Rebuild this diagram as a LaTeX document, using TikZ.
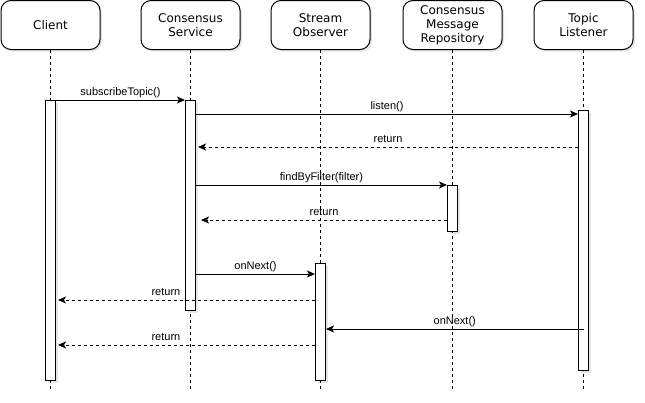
\documentclass[tikz,border=0pt]{standalone}
\usepackage{fontspec}
\setmainfont{DejaVu Sans}
\newfontfamily\msgfont{Liberation Sans}
\usetikzlibrary{arrows.meta, positioning, shadows}

\begin{document}
\begin{tikzpicture}[
    x=1pt, y=-1pt,
    line width=1pt,
    headnode/.style={draw=black, fill=white, rounded corners=10pt, minimum width=99pt, minimum height=49pt,
        align=center, font=\fontsize{12}{14}\selectfont,
        drop shadow={opacity=0.2, shadow xshift=2pt, shadow yshift=-2pt}},
    barnode/.style={draw=black, fill=white, minimum width=10pt, inner sep=0pt, anchor=north,
        drop shadow={opacity=0.2, shadow xshift=2pt, shadow yshift=-2pt}},
    lifeline/.style={dash pattern=on 3pt off 3pt, line width=0.8pt},
    msg/.style={-{Stealth[length=8pt, width=7pt, inset=2pt]}},
    retmsg/.style={msg, dash pattern=on 3pt off 3pt},
    lbl/.style={above, inner sep=2pt, text depth=2.5pt, font=\msgfont\fontsize{11}{13}\selectfont},
    ]

    \useasboundingbox (0,0) rectangle (645,402);

    % participants
    \node[headnode]    (client) at (50.5,25)          {Client};
    \node[headnode]    (cs)     [right=40pt of client] {Consensus\\Service};
    \node[headnode]    (so)     [right=30pt of cs]     {Stream\\Observer};
    \node[headnode]    (cmr)    [right=32pt of so]     {Consensus\\Message\\Repository};
    \node[headnode]    (tl)     [right=31pt of cmr]    {Topic\\Listener};

    % lifelines
    \foreach \p in {client, cs, so, cmr, tl}
        \draw[lifeline] (\p.south) -- (\p.south |- 0,391);

    % activations
    \node[barnode, minimum height=280pt] (clientbar) at (client |- 0,100) {};
    \node[barnode, minimum height=210pt] (csbar)     at (cs |- 0,100)     {};
    \node[barnode, minimum height=117pt] (sobar)     at (so |- 0,263)     {};
    \node[barnode, minimum height=46pt]  (cmrbar)    at (cmr |- 0,185)    {};
    \node[barnode, minimum height=260pt] (tlbar)     at (tl |- 0,110)     {};

    % messages
    \draw[msg] (clientbar.east |- 0,100) -- node[lbl] {subscribeTopic()} (csbar.west |- 0,100);
    \draw[msg] (csbar.east |- 0,114) -- node[lbl] {listen()} (tlbar.west |- 0,114);
    \draw[retmsg] (tlbar.west |- 0,147) -- node[lbl] {return} ([xshift=2pt]csbar.east |- 0,147);
    \draw[msg] (csbar.east |- 0,185) -- node[lbl] {findByFilter(filter)} (cmrbar.west |- 0,185);
    \draw[retmsg] (cmrbar.west |- 0,220) -- node[lbl] {return} ([xshift=5pt]csbar.east |- 0,220);
    \draw[msg] (csbar.east |- 0,274) -- node[lbl] {onNext()} (sobar.west |- 0,274);
    \draw[retmsg] (sobar.west |- 0,300) -- node[lbl, pos=0.58] {return} ([xshift=2pt]clientbar.east |- 0,300);
    \draw[msg] (tlbar.center |- 0,329) -- node[lbl] {onNext()} (sobar.east |- 0,329);
    \draw[retmsg] (sobar.west |- 0,345) -- node[lbl, pos=0.58] {return} ([xshift=2pt]clientbar.east |- 0,345);

\end{tikzpicture}
\end{document}
